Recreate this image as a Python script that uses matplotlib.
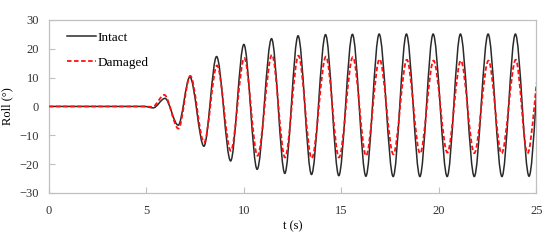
import matplotlib.pyplot as plt
from matplotlib.path import Path
from matplotlib.patches import PathPatch
from matplotlib.lines import Line2D

# turning points (time in s, roll in deg)
t_intact = [0, 4.9, 5.35, 5.95, 6.63, 7.23, 7.95, 8.6, 9.32, 10.0, 10.68, 11.42,
            12.10, 12.78, 13.47, 14.19, 14.87, 15.57, 16.26, 16.94, 17.66, 18.34,
            19.03, 19.71, 20.43, 21.11, 21.82, 22.53, 23.24, 23.93, 24.63, 25.32]
roll_intact = [0, 0, -0.5, 2.8, -6.5, 10.2, -13.8, 17.3, -18.9, 21.5, -21.8, 23.5,
               -23.2, 24.5, -23.6, 24.9, -24.0, 25.0, -24.2, 25.1, -24.3, 25.1,
               -24.3, 25.1, -24.3, 25.1, -24.3, 25.1, -24.3, 25.1, -24.2, 25.0]

t_damaged = [0, 4.9, 5.3, 5.92, 6.64, 7.25, 7.96, 8.62, 9.33, 10.02, 10.70, 11.44,
             12.11, 12.80, 13.48, 14.21, 14.88, 15.59, 16.27, 16.96, 17.67, 18.36,
             19.04, 19.73, 20.44, 21.13, 21.82, 22.55, 23.22, 23.95, 24.55, 25.25]
roll_damaged = [0, 0, -0.2, 4.0, -7.7, 10.6, -12.5, 14.2, -15.4, 16.8, -17.1, 17.9,
                -17.7, 17.6, -18.0, 17.3, -17.7, 17.1, -17.1, 16.4, -16.6, 16.2,
                -16.3, 15.9, -16.0, 15.9, -16.2, 15.9, -16.3, 16.2, -16.3, 16.2]

x_ticks = [0, 5, 10, 15, 20, 25]
y_ticks = [-30, -20, -10, 0, 10, 20, 30]

plt.rcParams['font.family'] = ['Liberation Serif', 'DejaVu Serif']
plt.rcParams['font.size'] = 9


def smooth_path(ts, ys):
    # cubic segments with flat tangents at every turning point
    verts = [(ts[0], ys[0])]
    codes = [Path.MOVETO]
    for i in range(1, len(ts)):
        dt = ts[i] - ts[i - 1]
        verts += [(ts[i - 1] + dt / 3, ys[i - 1]), (ts[i] - dt / 3, ys[i]), (ts[i], ys[i])]
        codes += [Path.CURVE4] * 3
    return Path(verts, codes)


fig = plt.figure(figsize=(5.5, 2.4), dpi=100)
ax = fig.add_axes([0.089, 0.196, 0.886, 0.721])

black = '#2a2a2a'
red = '#ff1010'
ax.add_patch(PathPatch(smooth_path(t_intact, roll_intact), facecolor='none',
                       edgecolor=black, lw=1.1, transform=ax.transData, zorder=2))
ax.add_patch(PathPatch(smooth_path(t_damaged, roll_damaged), facecolor='none',
                       edgecolor=red, lw=1.3, linestyle=(0, (2.5, 1.4)),
                       transform=ax.transData, zorder=3))

ax.set_xlim(0, 25)
ax.set_ylim(-30, 30)
ax.set_xticks(x_ticks)
ax.set_yticks(y_ticks)
ax.set_xlabel('t (s)', labelpad=2)
ax.set_ylabel('Roll (°)')
ax.yaxis.set_label_coords(-0.074, 0.5)

for s in ax.spines.values():
    s.set_color('#c0c0c0')
    s.set_linewidth(0.9)
ax.tick_params(direction='in', length=4, width=0.8, color='#c0c0c0',
               labelcolor='#333333')
ax.tick_params(axis='x', pad=9)
ax.tick_params(axis='y', pad=7)

handles = [Line2D([], [], color=black, lw=1.1),
           Line2D([], [], color=red, lw=1.3, linestyle=(0, (2.5, 1.4)))]
ax.legend(handles, ['Intact', 'Damaged'], loc='upper left', frameon=False,
          handlelength=2.2, handletextpad=0.15, labelspacing=0.95,
          bbox_to_anchor=(0.012, 1.0), fontsize=9.5)

fig.savefig('out.png', dpi=100)
